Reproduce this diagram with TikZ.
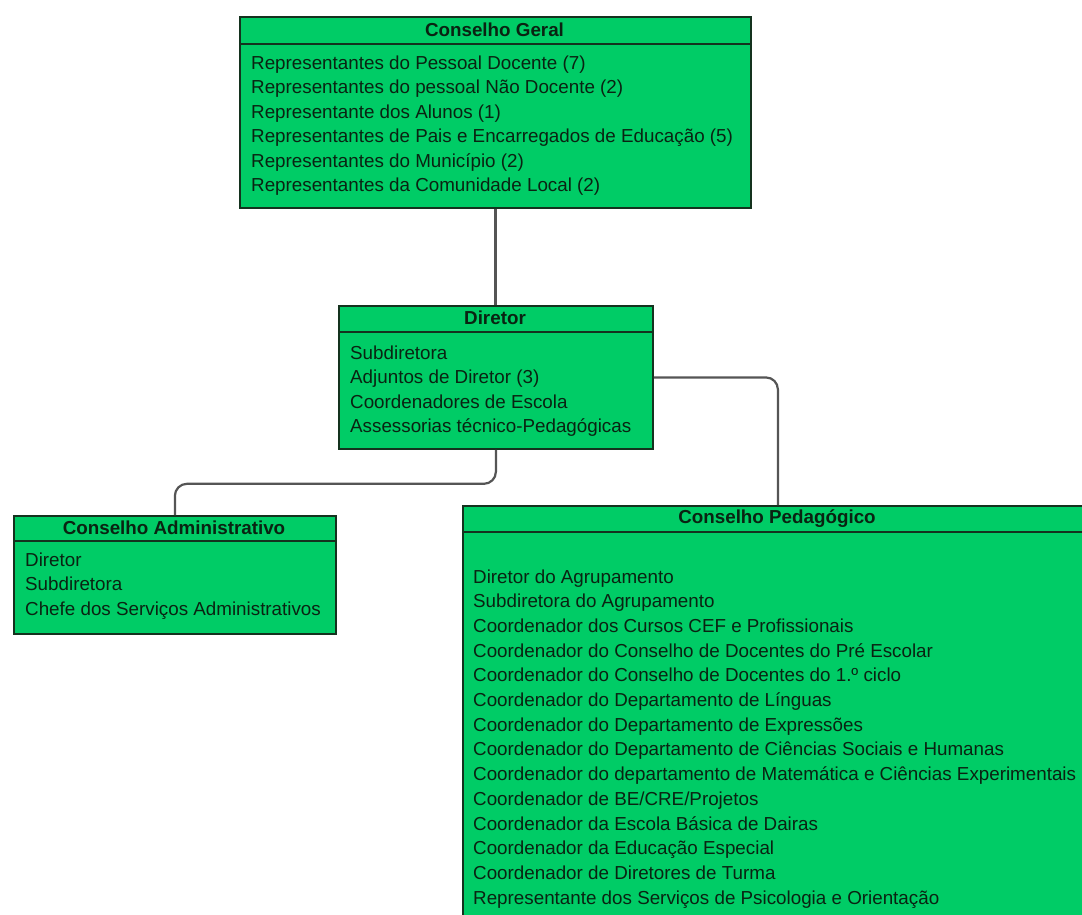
\documentclass[tikz,border=0pt]{standalone}
\usepackage{fontspec}
\setmainfont{Liberation Sans}
\usetikzlibrary{shadows}
\definecolor{boxgreen}{RGB}{0,204,102}
\definecolor{boxline}{RGB}{20,50,30}
\definecolor{txt}{RGB}{10,35,18}
\definecolor{connc}{RGB}{85,85,85}
\begin{document}
\begin{tikzpicture}[x=1pt,y=-1pt,
  box/.style={draw=boxline, line width=1.8pt, fill=boxgreen, rectangle, inner sep=0pt, anchor=north west,
    drop shadow={shadow xshift=1.5pt, shadow yshift=-1.5pt, opacity=0.35}},
  ttl/.style={font=\bfseries\fontsize{18.8}{22}\selectfont, text=txt, anchor=base, inner sep=0pt},
  itm/.style={font=\fontsize{18.8}{22}\selectfont, text=txt, anchor=base west, inner sep=0pt},
  sep/.style={draw=boxline, line width=1.8pt},
  conn/.style={draw=connc, line width=2.2pt, rounded corners=12pt}]
\clip (0,0) rectangle (1082,914);
\fill[white] (0,0) rectangle (1082,914);

% boxes
\node[box, minimum width=511, minimum height=191] (geral) at (239,16) {};
\node[box, minimum width=314, minimum height=143] (diretor) at (338,305) {};
\node[box, minimum width=322, minimum height=118] (admin) at (13,515) {};
\node[box, minimum width=630, minimum height=450] (ped) at (462,505) {};

% connectors
\draw[conn] (geral.south) -- (geral.south |- diretor.north);
\draw[conn] (diretor.south) -- ++(0,34) -| (admin.north);
\draw[conn] (diretor.east) -| (ped.north);

% header separators
\draw[sep] (geral.west |- 0,44) -- (geral.east |- 0,44);
\draw[sep] (diretor.west |- 0,332) -- (diretor.east |- 0,332);
\draw[sep] (admin.west |- 0,541) -- (admin.east |- 0,541);
\draw[sep] (ped.west |- 0,532) -- (ped.east |- 0,532);

% titles
\node[ttl] (geralT) at (494.5,36.5) {Conselho Geral};
\node[ttl] (diretorT) at (495,324) {Diretor};
\node[ttl] (adminT) at (174,534) {Conselho Administrativo};
\node[ttl] (pedT) at (777,523) {Conselho Pedagógico};

% items
\foreach \t [count=\i from 0] in {
  Representantes do Pessoal Docente (7),
  Representantes do pessoal Não Docente (2),
  Representante dos Alunos (1),
  Representantes de Pais e Encarregados de Educação (5),
  Representantes do Município (2),
  Representantes da Comunidade Local (2)}
  \node[itm] (g\i) at (251, 69+24.5*\i) {\t};

\foreach \t [count=\i from 0] in {
  Subdiretora,
  Adjuntos de Diretor (3),
  Coordenadores de Escola,
  Assessorias técnico-Pedagógicas}
  \node[itm] (d\i) at (350, 359+24.5*\i) {\t};

\foreach \t [count=\i from 0] in {
  Diretor,
  Subdiretora,
  Chefe dos Serviços Administrativos}
  \node[itm] (a\i) at (25, 566+24.5*\i) {\t};

\foreach \t [count=\i from 0] in {
  Diretor do Agrupamento,
  Subdiretora do Agrupamento,
  Coordenador dos Cursos CEF e Profissionais,
  Coordenador do Conselho de Docentes do Pré Escolar,
  Coordenador do Conselho de Docentes do 1.º ciclo,
  Coordenador do Departamento de Línguas,
  Coordenador do Departamento de Expressões,
  Coordenador do Departamento de Ciências Sociais e Humanas,
  Coordenador do departamento de Matemática e Ciências Experimentais,
  Coordenador de BE/CRE/Projetos,
  Coordenador da Escola Básica de Dairas,
  Coordenador da Educação Especial,
  Coordenador de Diretores de Turma,
  Representante dos Serviços de Psicologia e Orientação}
  \node[itm] (p\i) at (473, 583+24.7*\i) {\t};
\end{tikzpicture}
\end{document}
